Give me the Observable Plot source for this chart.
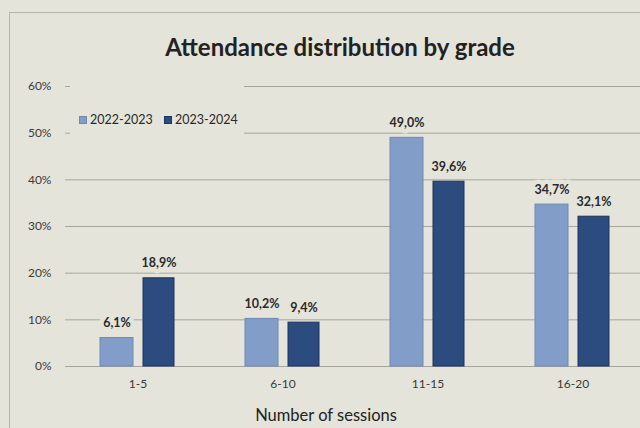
<!DOCTYPE html>
<html>
<head>
<meta charset="utf-8">
<script src="https://cdn.jsdelivr.net/npm/d3@7"></script>
<script src="https://cdn.jsdelivr.net/npm/@observablehq/plot@0.6"></script>
<style>
  html, body { margin: 0; padding: 0; }
  body {
    width: 640px; height: 428px; overflow: hidden; position: relative;
    background: #e4e4da; font-family: Lato, "Open Sans", sans-serif; color: #333;
  }
  #frame {
    position: absolute; left: 9px; top: 12px; width: 660px; height: 440px;
    border: 1px solid #b3b3a9; box-sizing: border-box;
  }
  #title {
    position: absolute; left: 0; top: 32px; width: 680px; text-align: center;
    font-size: 24px; line-height: 29px; font-weight: 700; color: #222;
  }
  #chart { position: absolute; left: 0; top: 70px; }
  #legend {
    position: absolute; left: 70px; top: 84px; width: 174px; height: 52px;
    background: #e4e4da; font-size: 12.5px; color: #2a2a2a;
  }
  #legend .item { position: absolute; top: 28px; line-height: 15px; white-space: nowrap; }
  #legend .swatch {
    display: inline-block; width: 8px; height: 8px; margin-right: 3px;
    vertical-align: 0px; box-sizing: border-box;
  }
  #caption {
    position: absolute; left: 226px; top: 406px; width: 200px; text-align: center;
    font-size: 16.5px; line-height: 19px; color: #222;
  }
</style>
</head>
<body>
<div id="frame"></div>
<div id="title">Attendance distribution by grade</div>
<div id="chart"></div>
<div id="legend"></div>
<div id="caption">Number of sessions</div>
<script>
// Session ranges and the share of students in each, per school year (%)
const sessions = ["1-5", "6-10", "11-15", "16-20"];
const years = ["2022-2023", "2023-2024"];
const share2022 = [6.1, 10.2, 49.0, 34.7];
const share2023 = [18.9, 9.4, 39.6, 32.1];
const yTicks = [0, 10, 20, 30, 40, 50, 60];
const fills = ["#829dc8", "#2c4b7e"];
const strokes = ["#7089b4", "#1d3461"];
const bg = "#e4e4da";

const rows2022 = sessions.map((s, i) => ({session: s, year: years[0], value: share2022[i]}));
const rows2023 = sessions.map((s, i) => ({session: s, year: years[1], value: share2023[i]}));

const fmt = d => d.value.toFixed(1).replace(".", ",") + "%";

const labelStyle = {
  text: fmt, dy: -15, fontWeight: "bold", fontSize: 12.5, fill: "#2a2a2a",
  stroke: bg, strokeWidth: 9, lineAnchor: "middle"
};

const chart = Plot.plot({
  width: 640,
  height: 330,
  marginLeft: 65,
  marginRight: 0,
  marginTop: 16,
  marginBottom: 34,
  style: {fontFamily: "Lato, 'Open Sans', sans-serif", fontSize: "12px", background: "transparent", color: "#333"},
  x: {domain: sessions, range: [65, 645], padding: 0, label: null},
  y: {domain: [0, 60], label: null},
  marks: [
    Plot.gridY(yTicks, {stroke: "#a6a69e", strokeOpacity: 1}),
    Plot.axisY(yTicks, {tickSize: 0, tickPadding: 14, tickFormat: d => d + "%", fill: "#3a3a3a", fontSize: 12}),
    Plot.axisX({tickSize: 0, tickPadding: 13, fill: "#3a3a3a", fontSize: 12}),
    Plot.barY(rows2022, {x: "session", y: "value", fill: fills[0], stroke: strokes[0], insetLeft: 35, insetRight: 77}),
    Plot.barY(rows2023, {x: "session", y: "value", fill: fills[1], stroke: strokes[1], insetLeft: 78, insetRight: 36}),
    Plot.text(rows2022, {x: "session", y: "value", dx: -21, ...labelStyle}),
    Plot.text(rows2023, {x: "session", y: "value", dx: 21, ...labelStyle})
  ]
});
document.getElementById("chart").append(chart);

// Legend: one swatch per school year
const legend = document.getElementById("legend");
const lefts = [9, 94];
years.forEach((y, i) => {
  const item = document.createElement("span");
  item.className = "item";
  item.style.left = lefts[i] + "px";
  const sw = document.createElement("span");
  sw.className = "swatch";
  sw.style.background = fills[i];
  sw.style.border = "1px solid " + strokes[i];
  item.append(sw, document.createTextNode(y));
  legend.append(item);
});
</script>
</body>
</html>
